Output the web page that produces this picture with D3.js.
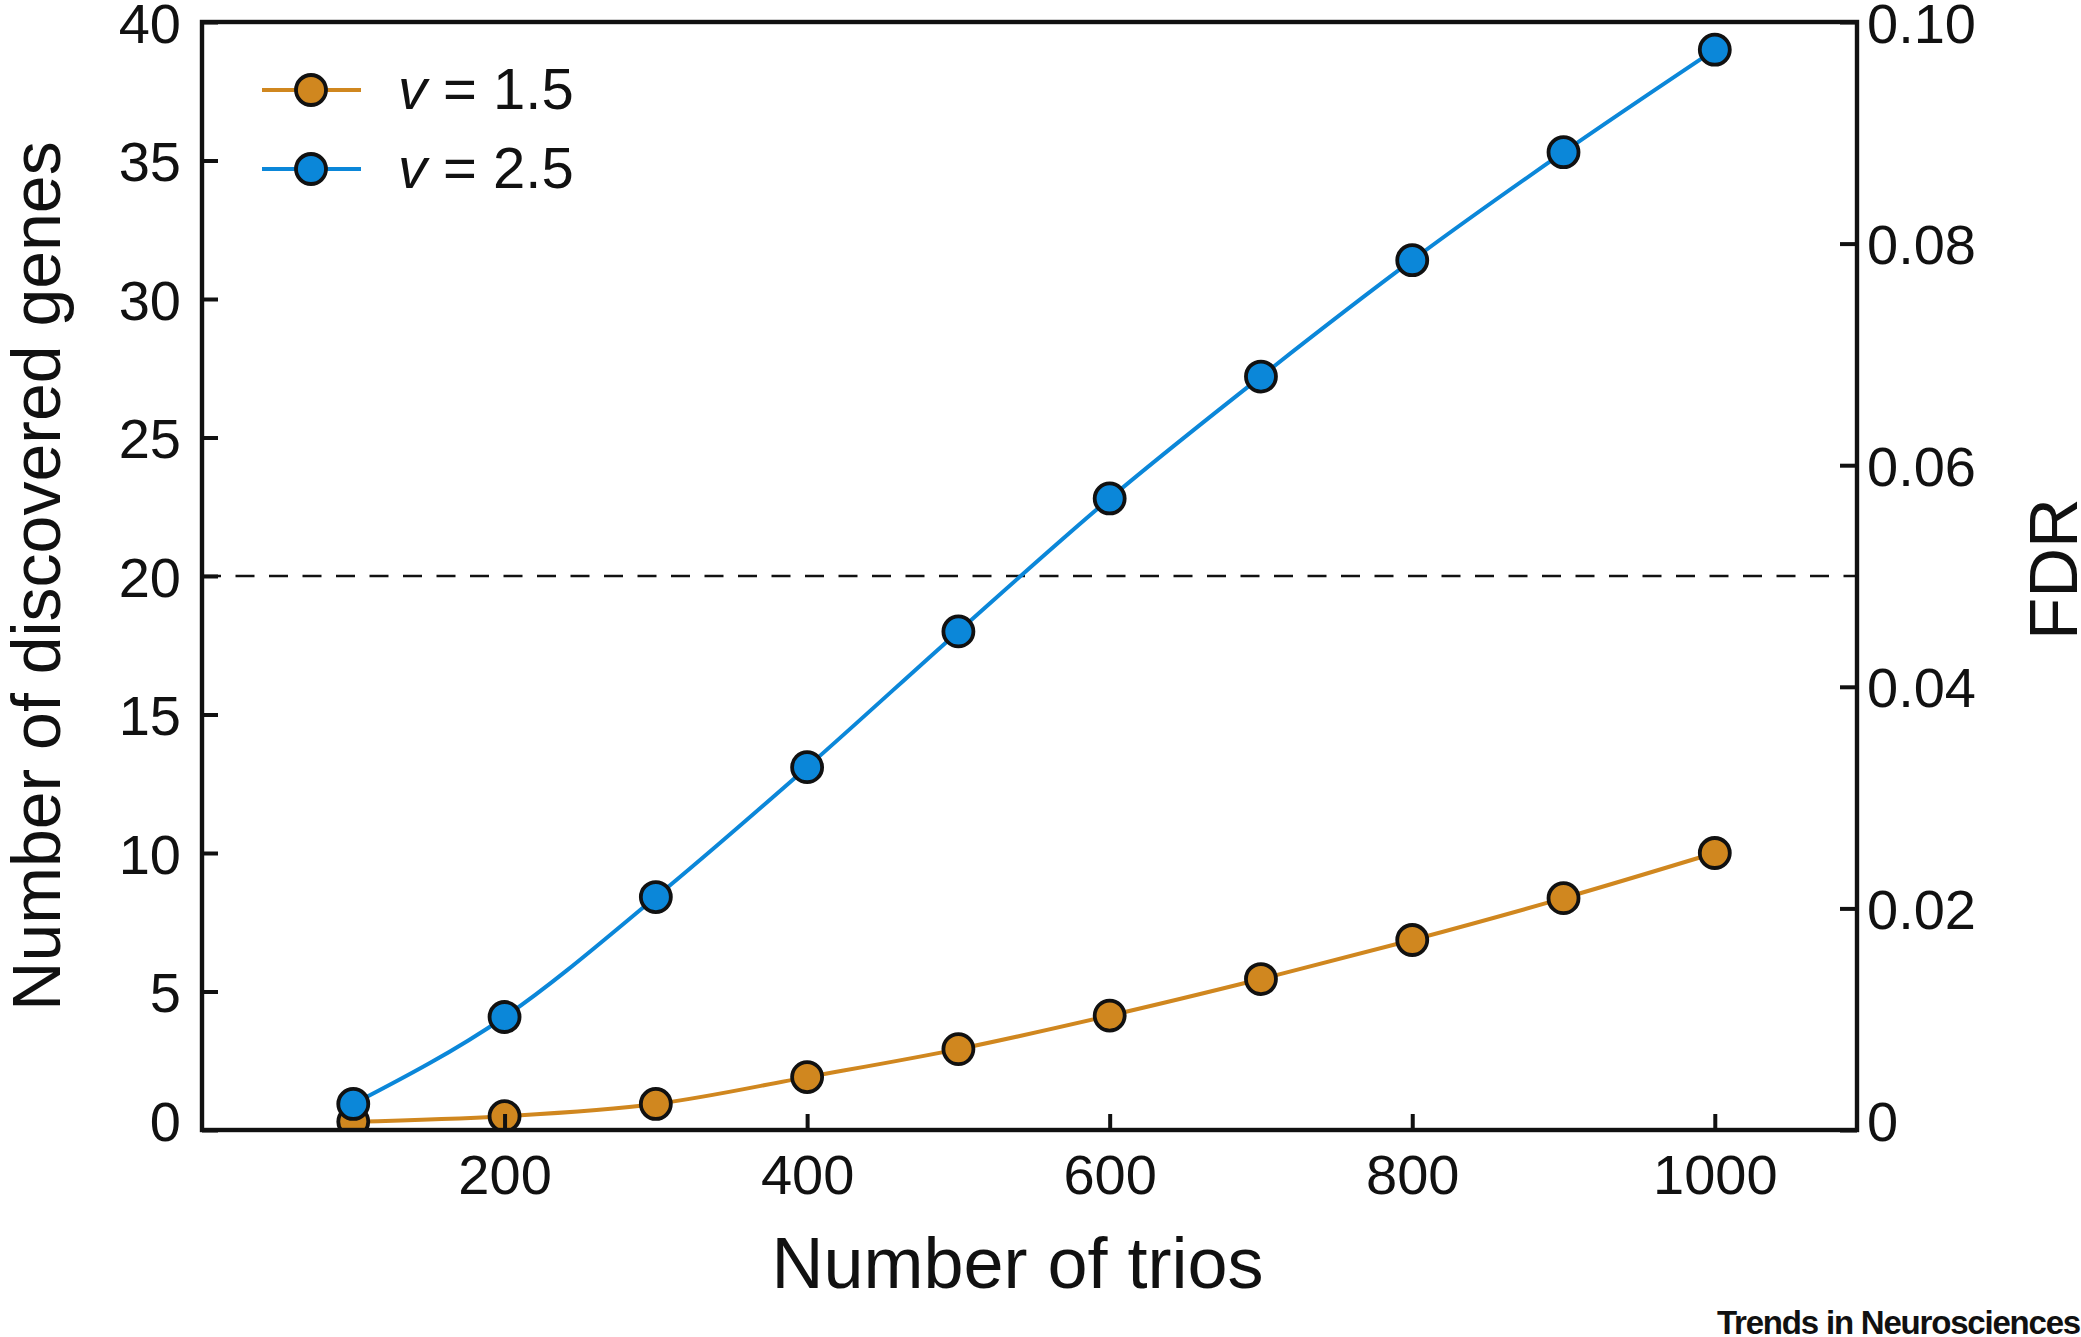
<!DOCTYPE html>
<html lang="en">
<head>
    <meta charset="utf-8">
    <script src="https://d3js.org/d3.v7.min.js"></script>
    <style>
        body { margin: 0; background: #fff; }
        text { font-family: "Liberation Sans", Arial, sans-serif; fill: #111; }
    </style>
</head>
<body>
    <script type="text/javascript">

        let w = 2081;
        let h = 1337;

        // data
        let trios = [100, 200, 300, 400, 500, 600, 700, 800, 900, 1000];
        let genes15 = [0.3, 0.5, 0.94, 1.91, 2.92, 4.13, 5.45, 6.86, 8.37, 10.0];
        let genes25 = [0.94, 4.08, 8.41, 13.1, 18.0, 22.8, 27.2, 31.4, 35.3, 39.0];
        let xTicks = [200, 400, 600, 800, 1000];
        let yTicks = [0, 5, 10, 15, 20, 25, 30, 35, 40];
        let fdrTicks = [0, 0.02, 0.04, 0.06, 0.08, 0.10];
        let fdrThreshold = 0.05;
        let seriesNames = ["1.5", "2.5"];
        let seriesColors = ["#d0871f", "#0b87d9"];

        let pLeft = 202, pRight = 1857, pTop = 22, pBottom = 1130;

        let svg = d3.select("body").append("svg")
                    .attr("width", w)
                    .attr("height", h);

        let x = d3.scaleLinear().domain([0, 1094]).range([pLeft, pRight]);
        let y = d3.scaleLinear().domain([0, 40]).range([pBottom, pTop]);
        let yR = d3.scaleLinear().domain([0, 0.1]).range([pBottom, pTop]);

        svg.append("clipPath").attr("id", "plotclip")
            .append("rect")
            .attr("x", pLeft).attr("y", pTop)
            .attr("width", pRight - pLeft).attr("height", pBottom - pTop);

        let plot = svg.append("g").attr("clip-path", "url(#plotclip)");

        // FDR threshold
        plot.append("line")
            .attr("x1", pLeft).attr("x2", pRight)
            .attr("y1", yR(fdrThreshold)).attr("y2", yR(fdrThreshold))
            .attr("stroke", "#111")
            .attr("stroke-width", 2.6)
            .attr("stroke-dasharray", "19,14.5");

        let line = d3.line()
                    .x(function(d) { return x(d[0]); })
                    .y(function(d) { return y(d[1]); })
                    .curve(d3.curveMonotoneX);

        let series = [genes15, genes25];
        series.forEach(function(vals, k) {
            let pts = trios.map(function(t, i) { return [t, vals[i]]; });
            plot.append("path")
                .attr("d", line(pts))
                .attr("fill", "none")
                .attr("stroke", seriesColors[k])
                .attr("stroke-width", 4);
            plot.selectAll("circle.s" + k)
                .data(pts)
                .join("circle")
                    .attr("class", "s" + k)
                    .attr("cx", function(d) { return x(d[0]); })
                    .attr("cy", function(d) { return y(d[1]); })
                    .attr("r", 15)
                    .attr("fill", seriesColors[k])
                    .attr("stroke", "#111")
                    .attr("stroke-width", 3.8);
        });

        // axes
        let fontSize = 56;

        let gx = svg.append("g")
            .attr("transform", "translate(0," + pBottom + ")")
            .call(d3.axisBottom(x).tickValues(xTicks).tickSize(-16).tickPadding(24)
                .tickFormat(d3.format("d")));

        let gy = svg.append("g")
            .attr("transform", "translate(" + pLeft + ",0)")
            .call(d3.axisLeft(y).tickValues(yTicks).tickSize(-16).tickPadding(21)
                .tickFormat(d3.format("d")));

        let gr = svg.append("g")
            .attr("transform", "translate(" + pRight + ",0)")
            .call(d3.axisRight(yR).tickValues(fdrTicks).tickSize(-17).tickPadding(10)
                .tickFormat(function(d) { return d === 0 ? "0" : d3.format(".2f")(d); }));

        [gx, gy, gr].forEach(function(g) {
            g.select(".domain").remove();
            g.selectAll(".tick line").attr("stroke", "#111").attr("stroke-width", 4);
            g.selectAll(".tick text")
                .attr("font-size", fontSize)
                .attr("font-family", "'Liberation Sans', Arial, sans-serif")
                .attr("fill", "#111");
        });
        gy.selectAll(".tick text").attr("dy", "0.36em");
        gr.selectAll(".tick text").attr("dy", "0.36em");
        // zero labels sit a little higher in the figure
        gy.selectAll(".tick text").filter(function(d) { return d === 0; }).attr("dy", "0.18em");
        gr.selectAll(".tick text").filter(function(d) { return d === 0; }).attr("dy", "0.18em");

        // box
        svg.append("rect")
            .attr("x", pLeft).attr("y", pTop)
            .attr("width", pRight - pLeft).attr("height", pBottom - pTop)
            .attr("fill", "none")
            .attr("stroke", "#111")
            .attr("stroke-width", 4.4);

        // axis titles
        svg.append("text")
            .attr("x", (pLeft + pRight) / 2 - 12)
            .attr("y", 1288)
            .attr("text-anchor", "middle")
            .attr("font-size", 72)
            .text("Number of trios");

        svg.append("text")
            .attr("transform", "translate(60," + ((pTop + pBottom) / 2) + ") rotate(-90)")
            .attr("text-anchor", "middle")
            .attr("font-size", 68)
            .text("Number of discovered genes");

        svg.append("text")
            .attr("transform", "translate(2077," + ((pTop + pBottom) / 2 - 7) + ") rotate(-90)")
            .attr("text-anchor", "middle")
            .attr("font-size", 69)
            .text("FDR");

        // legend
        let legendY = [90, 169];
        seriesNames.forEach(function(name, k) {
            let lg = svg.append("g");
            lg.append("line")
                .attr("x1", 262).attr("x2", 361)
                .attr("y1", legendY[k]).attr("y2", legendY[k])
                .attr("stroke", seriesColors[k])
                .attr("stroke-width", 4);
            lg.append("circle")
                .attr("cx", 311).attr("cy", legendY[k]).attr("r", 15)
                .attr("fill", seriesColors[k])
                .attr("stroke", "#111")
                .attr("stroke-width", 3.8);
            let t = lg.append("text")
                .attr("x", 398).attr("y", legendY[k] + 19)
                .attr("font-size", 58);
            t.append("tspan").attr("font-style", "italic").text("v");
            t.append("tspan").text(" = " + name);
        });

        // journal mark
        svg.append("text")
            .attr("x", 2080).attr("y", 1334)
            .attr("text-anchor", "end")
            .attr("font-size", 33)
            .attr("font-weight", "bold")
            .attr("letter-spacing", -1.2)
            .text("Trends in Neurosciences");

    </script>
</body>
</html>
